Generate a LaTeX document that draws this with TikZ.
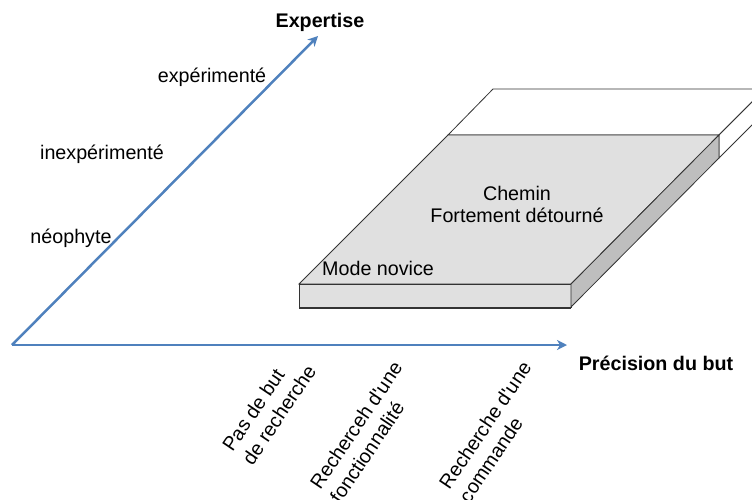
\documentclass[tikz,border=0pt]{standalone}
\usepackage{fontspec}
\setmainfont{Liberation Sans}
\usetikzlibrary{arrows.meta}
\definecolor{axisblue}{RGB}{79,129,189}
\definecolor{topgray}{RGB}{224,224,224}
\definecolor{sidegray}{RGB}{190,190,190}
\tikzset{
  lbl/.style={font=\fontsize{19.7}{24}\selectfont},
  title/.style={font=\fontsize{19.7}{24}\selectfont\bfseries},
  axis/.style={axisblue, line width=2.5pt, -{Stealth[length=10pt,width=10pt,inset=3pt]}},
  edge/.style={black!80, line width=0.8pt},
}

\begin{document}
\begin{tikzpicture}[x=1pt,y=1pt]
\tikzstyle{every node}+=[inner sep=0pt]
\useasboundingbox (0,0) rectangle (752,-499);
\clip (0,0) rectangle (752,-499);
% back slab
\draw [edge, fill=white] (448,-135) -- (493,-89) -- (765,-89) -- (719,-135) -- cycle;
\draw [edge, fill=white] (719,-135) -- (765,-89) -- (765,-112) -- (719,-158) -- cycle;
% gray slab
\draw [edge, fill=topgray] (299,-284) -- (571,-284) -- (719,-135) -- (448,-135) -- cycle;
\draw [edge, fill=topgray] (299,-284) rectangle (571,-307);
\draw [edge, fill=sidegray] (571,-284) -- (719,-135) -- (719,-158) -- (571,-307) -- cycle;
\draw [edge, line width=2pt] (299,-307.5) -- (571,-307.5);
\node [lbl, align=center] (chemin) at (517,-204) {Chemin\\[-2pt]Fortement détourné};
\node [lbl, anchor=base west] (novice) at (322,-275) {Mode novice};
% axes
\coordinate (origin) at (12,-345);
\coordinate (xend) at (567,-345);
\coordinate (yend) at (318,-36);
\draw [axis] (origin) -- (xend);
\draw [axis] (origin) -- (yend);
\node [title, anchor=base] (expertise) at (320,-27) {Expertise};
\node [title, anchor=base] (precision) at (656,-370) {Précision du but};
\node [lbl, anchor=base] (experimente) at (212,-82) {expérimenté};
\node [lbl, anchor=base] (inexperimente) at (102,-159) {inexpérimenté};
\node [lbl, anchor=base] (neophyte) at (71,-243) {néophyte};
\node [lbl, rotate=56, align=left] (pasdebut) at (269,-408) {Pas de but\\de recherche};
\node [lbl, rotate=56, align=left] (fonction) at (366,-432) {Recherceh d\textquotesingle une\\fonctionnalité};
\node [lbl, rotate=56, align=left] (commande) at (495,-432) {Recherche d\textquotesingle une\\commande};
\end{tikzpicture}
\end{document}
